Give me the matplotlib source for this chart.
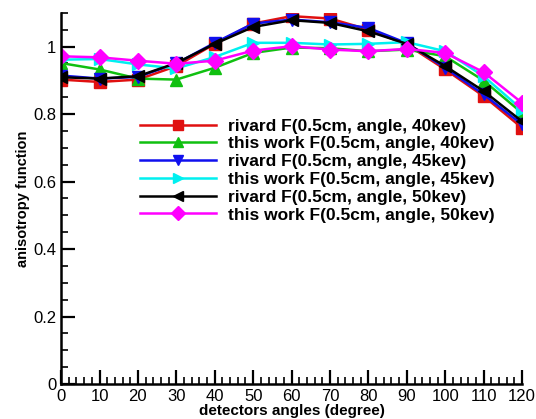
import numpy as np
import matplotlib
matplotlib.use('Agg')
import matplotlib.pyplot as plt
from matplotlib.ticker import MultipleLocator, FuncFormatter

plt.rcParams['font.family'] = ['Liberation Sans', 'DejaVu Sans']

angles = [0, 10, 20, 30, 40, 50, 60, 70, 80, 90, 100, 110, 120]

rivard_40 = [0.902, 0.895, 0.902, 0.942, 1.008, 1.068, 1.090, 1.083, 1.050, 1.006, 0.932, 0.853, 0.759]
work_40 = [0.951, 0.932, 0.905, 0.902, 0.937, 0.981, 0.997, 0.995, 0.986, 0.991, 0.971, 0.899, 0.803]
rivard_45 = [0.914, 0.905, 0.910, 0.950, 1.011, 1.068, 1.080, 1.072, 1.055, 1.010, 0.937, 0.858, 0.769]
work_45 = [0.961, 0.963, 0.947, 0.935, 0.969, 1.011, 1.011, 1.006, 1.008, 1.013, 0.986, 0.912, 0.813]
rivard_50 = [0.909, 0.905, 0.912, 0.951, 1.008, 1.058, 1.078, 1.070, 1.045, 1.008, 0.942, 0.868, 0.778]
work_50 = [0.971, 0.968, 0.958, 0.949, 0.958, 0.988, 1.001, 0.991, 0.986, 0.993, 0.981, 0.924, 0.833]

labels = [
    'rivard F(0.5cm, angle, 40kev)',
    'this work F(0.5cm, angle, 40kev)',
    'rivard F(0.5cm, angle, 45kev)',
    'this work F(0.5cm, angle, 45kev)',
    'rivard F(0.5cm, angle, 50kev)',
    'this work F(0.5cm, angle, 50kev)',
]

fig = plt.figure(figsize=(5.36, 4.19), dpi=100)
ax = fig.add_axes([0.114, 0.0835, 0.860, 0.886])

series = [rivard_40, work_40, rivard_45, work_45, rivard_50, work_50]
colors = ['#e01010', '#10c010', '#1010ee', '#00f0f0', '#000000', '#ff00ff']
markers = ['s', '^', 'v', '>', '<', 'D']
for vals, c, m, lab in zip(series, colors, markers, labels):
    ax.plot(angles, vals, color=c, marker=m, markersize=8, lw=1.8, label=lab)

ax.set_xlim(0, 120)
ax.set_ylim(0, 1.1)
ax.spines['top'].set_visible(False)
ax.spines['right'].set_visible(False)
ax.spines['left'].set_linewidth(1.8)
ax.spines['bottom'].set_linewidth(1.8)

ax.xaxis.set_major_locator(MultipleLocator(10))
ax.xaxis.set_minor_locator(MultipleLocator(2))
ax.yaxis.set_major_locator(MultipleLocator(0.2))
ax.yaxis.set_minor_locator(MultipleLocator(0.05))
ax.yaxis.set_major_formatter(FuncFormatter(lambda v, p: '%g' % round(v, 2)))
ax.tick_params(which='major', direction='in', length=10, width=1.6, labelsize=12)
ax.tick_params(which='minor', direction='in', length=5, width=1.2)

ax.set_xlabel('detectors angles (degree)', fontsize=11, fontweight='bold', labelpad=0)
ax.set_ylabel('anisotropy function', fontsize=10.5, fontweight='bold', labelpad=2)

ax.legend(loc='upper left', bbox_to_anchor=(0.171, 0.715), frameon=False,
          prop={'weight': 'bold', 'size': 12.5}, handlelength=4.4, markerscale=0.9,
          handletextpad=0.7, labelspacing=0.15, borderpad=0, borderaxespad=0)

fig.savefig('out.png', dpi=100)
